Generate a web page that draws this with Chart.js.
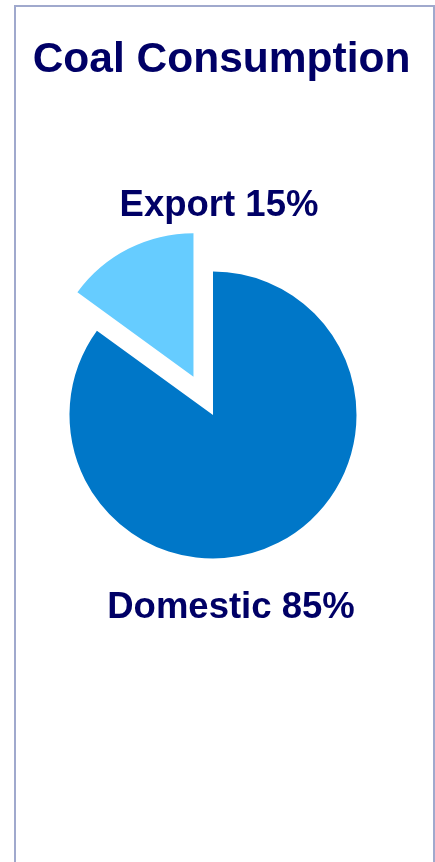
<!DOCTYPE html>
<html>
<head>
<meta charset="utf-8">
<title>Coal Consumption</title>
<script src="https://cdn.jsdelivr.net/npm/chart.js@4/dist/chart.umd.min.js"></script>
<style>
  html, body { margin: 0; padding: 0; background: #ffffff; }
  body { width: 435px; height: 862px; position: relative; overflow: hidden; }
  .frame {
    position: absolute; left: 14px; top: 5px; width: 421px; height: 870px;
    border: 2px solid #a0a9cd; box-sizing: border-box; background: #ffffff;
  }
  #chart { position: absolute; left: 0; top: 0; }
</style>
</head>
<body>
<div class="frame"></div>
<canvas id="chart" width="435" height="862"></canvas>
<script>
// Coal consumption split (percent)
const categories = ['Domestic', 'Export'];
const shares = [85, 15];
const sliceColors = ['#0077C8', '#66CCFF'];
const chartTitle = 'Coal Consumption';

// How far each slice is pulled out from the centre, in pixels
const pullOut = [0, 43];

const TEXT_COLOR = '#000066';
const FONT = '"Liberation Sans", Arial, Helvetica, sans-serif';

// Pulls slices away from the centre along their bisector without changing their radius
const explodeSlices = {
  id: 'explodeSlices',
  beforeDatasetDraw(chart, args) {
    args.meta.data.forEach((arc, i) => {
      if (arc._pulled) return;
      const baseDraw = arc.draw;
      arc.draw = function (ctx, area) {
        const d = pullOut[i] || 0;
        const mid = (this.startAngle + this.endAngle) / 2;
        ctx.save();
        ctx.translate(Math.cos(mid) * d, Math.sin(mid) * d);
        baseDraw.call(this, ctx, area);
        ctx.restore();
      };
      arc._pulled = true;
    });
  }
};

// Title and the slice captions
const captions = {
  id: 'captions',
  afterDatasetsDraw(chart) {
    const ctx = chart.ctx;
    const meta = chart.getDatasetMeta(0);
    const arc = meta.data[0];
    const cx = arc.x, cy = arc.y, r = arc.outerRadius;
    ctx.save();
    ctx.fillStyle = TEXT_COLOR;
    ctx.textAlign = 'center';
    ctx.textBaseline = 'alphabetic';

    ctx.font = 'bold 42.5px ' + FONT;
    ctx.fillText(chartTitle, 221.5, 72);

    ctx.font = 'bold 36.5px ' + FONT;
    // Export caption sits above the pie, Domestic below it
    ctx.fillText(categories[1] + ' ' + shares[1] + '%', cx + 6, cy - r - 56);
    ctx.fillText(categories[0] + ' ' + shares[0] + '%', cx + 18, cy + r + 59);
    ctx.restore();
  }
};

new Chart(document.getElementById('chart'), {
  type: 'pie',
  data: {
    labels: categories,
    datasets: [{
      data: shares,
      backgroundColor: sliceColors,
      borderWidth: 0,
      hoverOffset: 0
    }]
  },
  options: {
    responsive: false,
    animation: false,
    radius: 143.5,
    layout: { padding: { left: 0, right: 9, top: 0, bottom: 32 } },
    plugins: {
      legend: { display: false },
      title: { display: false },
      tooltip: { enabled: false }
    },
    events: []
  },
  plugins: [explodeSlices, captions]
});
</script>
</body>
</html>
